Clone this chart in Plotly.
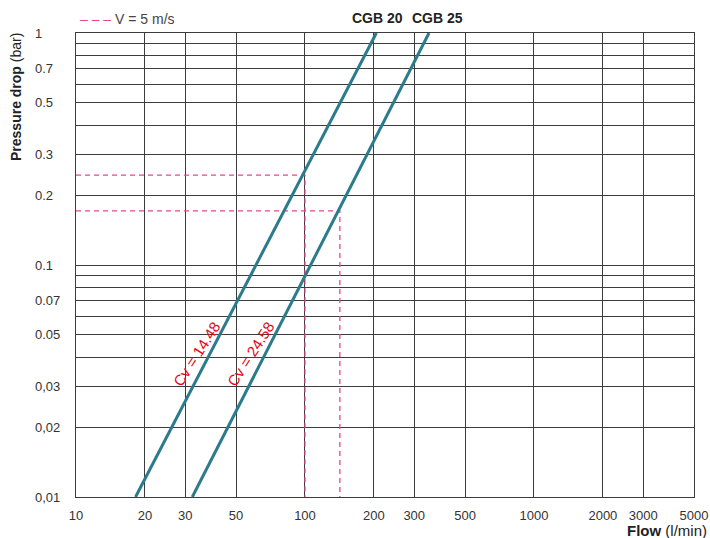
import math
import plotly.graph_objects as go

# ---- data ----
flow_cgb20 = [18.2, 205.0]
dp_cgb20 = [0.01, 1.0]
flow_cgb25 = [32.2, 348.0]
dp_cgb25 = [0.01, 1.0]
v5_flow = [100.0, 142.0]          # V = 5 m/s operating points
v5_dp = [0.244, 0.171]
series_names = ["CGB 20", "CGB 25"]
cv_labels = ["Cv = 14.48", "Cv = 24.58"]

x_ticks = [10, 20, 30, 50, 100, 200, 300, 500, 1000, 2000, 3000, 5000]
x_ticktext = ["10", "20", "30", "50", "100", "200", "300", "500", "1000", "2000", "3000", "5000"]
y_grid = [0.01, 0.02, 0.03, 0.04, 0.05, 0.06, 0.07, 0.08, 0.09,
          0.1, 0.2, 0.3, 0.4, 0.5, 0.6, 0.7, 0.8, 0.9, 1.0]
y_labels_val = [1, 0.7, 0.5, 0.3, 0.2, 0.1, 0.07, 0.05, 0.03, 0.02, 0.01]
y_labels_txt = ["1", "0.7", "0.5", "0.3", "0.2", "0.1", "0.07", "0.05", "0,03", "0,02", "0,01"]

X_MIN, X_MAX = 10, 5000
Y_MIN, Y_MAX = 0.01, 1.0

TEAL = "#2a7b8b"
PINK = "#e8478b"
RED = "#e30613"
GRID = "#3c3c3c"
TXT = "#333333"
FONT = "Liberation Sans"

fig = go.Figure()

# dashed V = 5 m/s guide lines
for q, p in zip(v5_flow, v5_dp):
    fig.add_trace(go.Scatter(
        x=[X_MIN, q, q], y=[p, p, Y_MIN], mode="lines",
        line=dict(color=PINK, width=1.3, dash="5px,4px"),
        showlegend=False, hoverinfo="skip"))

# characteristic lines
for xs, ys, nm in [(flow_cgb20, dp_cgb20, series_names[0]),
                   (flow_cgb25, dp_cgb25, series_names[1])]:
    fig.add_trace(go.Scatter(
        x=xs, y=ys, mode="lines", name=nm,
        line=dict(color=TEAL, width=3), showlegend=False))

fig.update_xaxes(
    type="log", range=[math.log10(X_MIN), math.log10(X_MAX)],
    tickmode="array", tickvals=x_ticks, ticktext=x_ticktext,
    showgrid=True, gridcolor=GRID, gridwidth=1,
    showline=True, linecolor=GRID, linewidth=1, mirror=True,
    ticks="", ticklabelstandoff=6, automargin=False,
    tickfont=dict(family=FONT, size=13, color=TXT),
    zeroline=False)

fig.update_yaxes(
    type="log", range=[math.log10(Y_MIN), math.log10(Y_MAX)],
    tickmode="array", tickvals=y_grid, ticktext=[""] * len(y_grid),
    showgrid=True, gridcolor=GRID, gridwidth=1,
    showline=True, linecolor=GRID, linewidth=1, mirror=True,
    ticks="", zeroline=False, automargin=False)

W, H = 710, 538
L, R, T, B = 76, 16, 33, 41
pw, ph = W - L - R, H - T - B

def px_x(px):
    return (px - L) / pw

def px_y(py):
    return (H - B - py) / ph

ann = []
# y tick labels (left aligned as in the reference)
for v, t in zip(y_labels_val, y_labels_txt):
    ann.append(dict(x=px_x(33), xref="paper", y=math.log10(v), yref="y",
                    text=t, showarrow=False, xanchor="left", yanchor="middle",
                    font=dict(family=FONT, size=13, color=TXT)))

# axis titles
ann.append(dict(x=px_x(16), xref="paper", y=px_y(31), yref="paper",
                text="<b>Pressure drop</b> (bar)", textangle=-90,
                showarrow=False, xanchor="center", yanchor="top",
                font=dict(family=FONT, size=14, color="#222")))
ann.append(dict(x=px_x(709), xref="paper", y=px_y(530), yref="paper",
                text="<b>Flow</b> (l/min)", showarrow=False,
                xanchor="right", yanchor="middle",
                font=dict(family=FONT, size=15, color="#222")))

# legend-like note
ann.append(dict(x=px_x(78), xref="paper", y=px_y(19), yref="paper",
                text=f"<span style='color:{PINK}'>– – –</span> V = 5 m/s",
                showarrow=False, xanchor="left", yanchor="middle",
                font=dict(family=FONT, size=14, color="#444")))

# series names
for nm, xpx in zip(series_names, [377, 437]):
    ann.append(dict(x=px_x(xpx), xref="paper", y=px_y(18), yref="paper",
                    text=f"<b>{nm}</b>", showarrow=False,
                    xanchor="center", yanchor="middle",
                    font=dict(family=FONT, size=14, color="#222")))

# Cv labels along lines
for t, xpx in zip(cv_labels, [196, 250]):
    ann.append(dict(x=px_x(xpx), xref="paper", y=px_y(354), yref="paper",
                    text=t, textangle=-57, showarrow=False,
                    xanchor="center", yanchor="middle",
                    font=dict(family=FONT, size=15, color=RED)))

fig.update_layout(
    width=W, height=H,
    margin=dict(l=L, r=R, t=T, b=B, autoexpand=False),
    paper_bgcolor="white", plot_bgcolor="white",
    annotations=ann, showlegend=False)

fig.write_html("out.html", config={"displayModeBar": False},
               post_script="document.body.style.margin='0';document.body.style.padding='0';")
